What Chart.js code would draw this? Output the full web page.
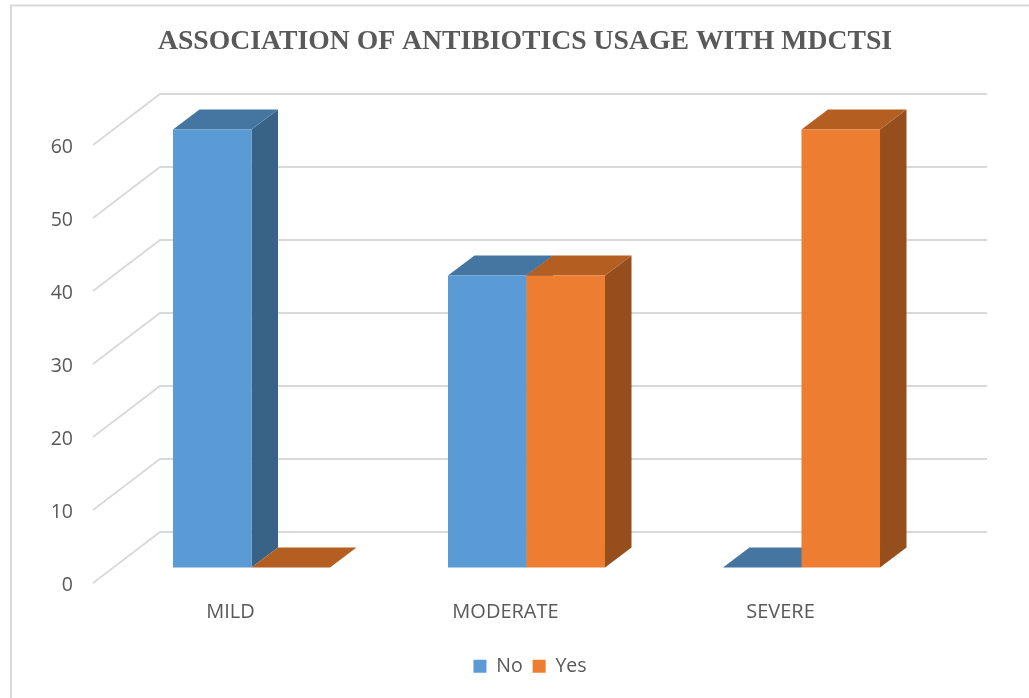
<!DOCTYPE html>
<html>
<head>
<meta charset="utf-8">
<title>Antibiotics usage</title>
<script src="https://cdn.jsdelivr.net/npm/chart.js@4/dist/chart.umd.min.js"></script>
<style>
    html, body { margin: 0; padding: 0; background: #fff; }
    #wrap { width: 1029px; height: 698px; }
</style>
</head>
<body>
<div id="wrap"><canvas id="usageChart" width="1029" height="698"></canvas></div>
<script>
const chartTitle = "ASSOCIATION OF ANTIBIOTICS USAGE WITH MDCTSI";
const categories = ["MILD", "MODERATE", "SEVERE"];
const noValues = [60, 40, 0];
const yesValues = [0, 40, 60];

const gridColor = "#D9D9D9";
const labelColor = "#595959";
const fontFamily = "'Open Sans', 'Noto Sans', sans-serif";

// where the bars stand inside the floor, and how deep a bar is
const barShift = { x: 21, y: -18 };
const barDepth = { x: 26.5, y: -20 };
const wallFront = { x: 0, y: -2.5 };
const wallBack = { x: 67, y: -53.5 };
const legendShift = 5;

function fillPoly(ctx, color, points) {
    ctx.fillStyle = color;
    ctx.beginPath();
    ctx.moveTo(points[0][0], points[0][1]);
    for (let i = 1; i < points.length; i++) ctx.lineTo(points[i][0], points[i][1]);
    ctx.closePath();
    ctx.fill();
}

// top and side faces of one bar
function drawFaces(ctx, bar, ds) {
    const left = bar.x - bar.width / 2;
    const right = bar.x + bar.width / 2;
    const dx = barDepth.x, dy = barDepth.y;
    if (bar.base > bar.y) {
        fillPoly(ctx, ds.sideColor, [
            [right, bar.y], [right + dx, bar.y + dy],
            [right + dx, bar.base + dy], [right, bar.base]
        ]);
    }
    fillPoly(ctx, ds.topColor, [
        [left, bar.y], [left + dx, bar.y + dy],
        [right + dx, bar.y + dy], [right, bar.y]
    ]);
}

const box3d = {
    id: "box3d",

    afterLayout(chart) {
        chart.legend.left += legendShift;
        chart.legend.right += legendShift;
    },

    beforeDraw(chart) {
        const ctx = chart.ctx;
        ctx.save();
        ctx.strokeStyle = gridColor;
        ctx.lineWidth = 2;
        ctx.beginPath();
        ctx.moveTo(11, chart.height);
        ctx.lineTo(11, 5.5);
        ctx.lineTo(chart.width, 5.5);
        ctx.stroke();
        ctx.restore();
    },

    // walls first, then the series left to right so Yes ends up over No
    beforeDatasetsDraw(chart) {
        const ctx = chart.ctx;
        const area = chart.chartArea;
        const y = chart.scales.y;
        ctx.save();
        ctx.strokeStyle = gridColor;
        ctx.lineWidth = 1.8;
        y.ticks.forEach(function(tick) {
            const py = y.getPixelForValue(tick.value);
            ctx.beginPath();
            ctx.moveTo(area.left + wallFront.x, py + wallFront.y);
            ctx.lineTo(area.left + wallBack.x, py + wallBack.y);
            ctx.lineTo(area.right + wallBack.x + 2, py + wallBack.y);
            ctx.stroke();
        });
        ctx.translate(barShift.x, barShift.y);
        chart.data.datasets.forEach(function(ds, i) {
            const meta = chart.getDatasetMeta(i);
            meta.data.forEach(function(bar) {
                drawFaces(ctx, bar, ds);
            });
            meta.controller.draw();
        });
        ctx.restore();
        return false;
    }
};

new Chart(document.getElementById("usageChart"), {
    type: "bar",
    plugins: [box3d],
    data: {
        labels: categories,
        datasets: [{
            label: "No",
            data: noValues,
            backgroundColor: "#5B9BD5",
            topColor: "#4576A2",
            sideColor: "#386387",
        }, {
            label: "Yes",
            data: yesValues,
            backgroundColor: "#ED7D31",
            topColor: "#B45E22",
            sideColor: "#964F1C",
        }],
    },
    options: {
        responsive: false,
        animation: false,
        layout: { padding: { left: 21, right: 0, top: 0, bottom: 12 } },
        datasets: { bar: { categoryPercentage: 0.571, barPercentage: 1, borderWidth: 0 } },
        plugins: {
            tooltip: { enabled: false },
            title: {
                display: true,
                text: chartTitle,
                color: labelColor,
                font: { family: "'Liberation Serif', serif", size: 27.7, weight: "bold" },
                padding: { top: 25, bottom: 89.26 },
            },
            legend: {
                position: "bottom",
                labels: {
                    boxWidth: 13,
                    boxHeight: 13,
                    padding: 10,
                    color: labelColor,
                    font: { family: fontFamily, size: 19.5 },
                },
            },
        },
        scales: {
            x: {
                grid: { display: false, drawTicks: false },
                border: { display: false },
                ticks: { color: labelColor, font: { family: fontFamily, size: 20 }, padding: 15, maxRotation: 0, autoSkip: false },
                afterFit(scale) { scale.height = 61; },
            },
            y: {
                min: 0,
                max: 60,
                grid: { display: false, drawTicks: false },
                border: { display: false },
                ticks: { stepSize: 10, color: labelColor, font: { family: fontFamily, size: 19.5 }, padding: 20 },
                afterFit(scale) { scale.width = 72; },
            },
            // keeps the room to the right of the floor free
            rightGap: {
                axis: "y",
                position: "right",
                grid: { display: false, drawTicks: false },
                border: { display: false },
                ticks: { display: false },
                afterFit(scale) { scale.width = 111; },
            },
        },
    },
});
</script>
</body>
</html>
